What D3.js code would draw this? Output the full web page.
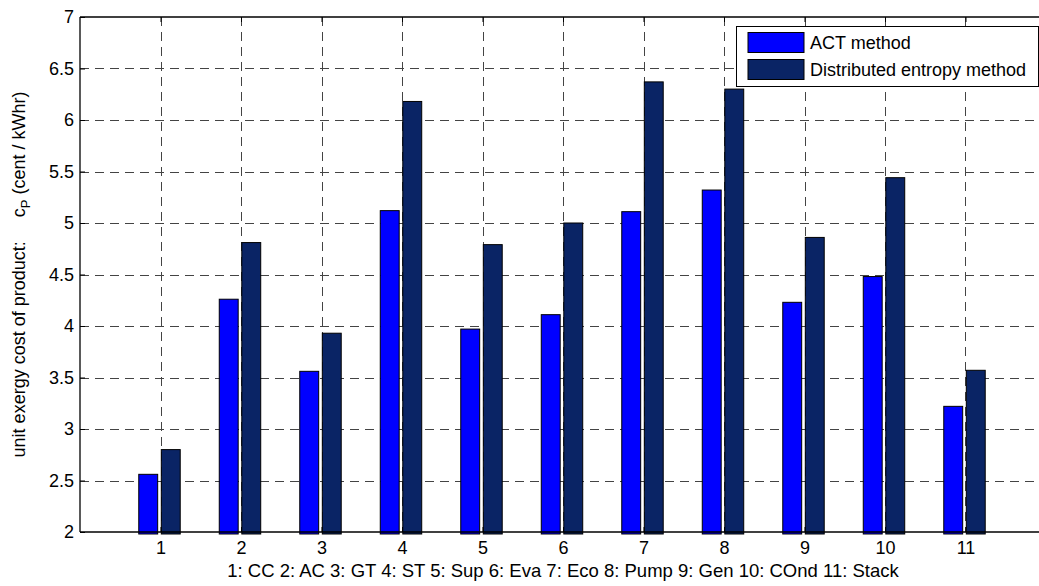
<!DOCTYPE html>
<html>
<head>
<meta charset="utf-8">
<script src="https://cdn.jsdelivr.net/npm/d3@7/dist/d3.min.js"></script>
<style>
  html, body { margin: 0; padding: 0; background: #fff; }
  svg { display: block; font-family: "Liberation Sans", Arial, sans-serif; }
</style>
</head>
<body>
<svg id="chart" width="1039" height="586"></svg>
<script>
// Component index, 1..11
const categories = [1, 2, 3, 4, 5, 6, 7, 8, 9, 10, 11];
// Unit exergy cost of product, cent / kWhr
const actMethod = [2.56, 4.26, 3.56, 5.12, 3.97, 4.11, 5.11, 5.32, 4.23, 4.48, 3.22];
const entropyMethod = [2.80, 4.81, 3.93, 6.18, 4.79, 5.00, 6.37, 6.30, 4.86, 5.44, 3.57];
const seriesNames = ["ACT method", "Distributed entropy method"];
const yTicks = [2, 2.5, 3, 3.5, 4, 4.5, 5, 5.5, 6, 6.5, 7];
const xLabel = "1: CC 2: AC 3: GT 4: ST 5: Sup 6: Eva 7: Eco 8: Pump 9: Gen 10: COnd 11: Stack";

const colors = ["#0000ff", "#0a2465"];
const FS = 18;

const svg = d3.select("#chart");
const plotL = 80, plotR = 1046, plotT = 17, plotB = 532;

const x = d3.scaleLinear().domain([0, 12]).range([plotL, plotR]);
const y = d3.scaleLinear().domain([2, 7]).range([plotB, plotT]);

// Grid (dashed)
const grid = svg.append("g").attr("stroke", "#444").attr("stroke-width", 1)
  .attr("stroke-dasharray", "9,6").attr("fill", "none");
categories.forEach(c => {
  grid.append("line").attr("x1", Math.round(x(c)) + 0.5).attr("x2", Math.round(x(c)) + 0.5)
    .attr("y1", plotT).attr("y2", plotB);
});
yTicks.slice(1, -1).forEach(t => {
  grid.append("line").attr("x1", plotL).attr("x2", plotR)
    .attr("y1", Math.round(y(t)) + 0.5).attr("y2", Math.round(y(t)) + 0.5);
});

// Bars
const offsets = [[-0.27, -0.035], [0.01, 0.245]];
[actMethod, entropyMethod].forEach((vals, si) => {
  svg.append("g").selectAll("rect").data(vals).join("rect")
    .attr("x", (d, i) => x(categories[i] + offsets[si][0]))
    .attr("width", x(offsets[si][1]) - x(offsets[si][0]))
    .attr("y", d => y(d))
    .attr("height", d => y(2) - y(d) + 2)
    .attr("fill", colors[si])
    .attr("stroke", "#000")
    .attr("stroke-width", 1);
});

// Axes
const axisFont = g => g.selectAll("text").attr("font-size", FS)
  .attr("font-family", "'Liberation Sans', Arial, sans-serif").attr("fill", "#000");

const yAxis = svg.append("g").attr("transform", `translate(${plotL},0)`)
  .call(d3.axisLeft(y).tickValues(yTicks).tickSize(-5).tickPadding(6).tickFormat(d3.format("")));
yAxis.call(axisFont);

const xAxis = svg.append("g").attr("transform", `translate(0,${plotB})`)
  .call(d3.axisBottom(x).tickValues(categories).tickSize(-5).tickPadding(9).tickFormat(d3.format("d")));
xAxis.call(axisFont);

const xTop = svg.append("g").attr("transform", `translate(0,${plotT})`)
  .call(d3.axisTop(x).tickValues(categories).tickSize(-5).tickFormat(""));

[yAxis, xAxis, xTop].forEach(g => {
  g.select(".domain").attr("stroke", "#000").attr("stroke-width", 1.3);
  g.selectAll(".tick line").attr("stroke", "#000");
});
yAxis.select(".domain").attr("d", `M0,${plotT}V${plotB}`);
xAxis.select(".domain").attr("d", `M${plotL},0H${plotR}`);
xTop.select(".domain").attr("d", `M${plotL},0H${plotR}`);

// X label
svg.append("text").attr("x", (plotL + plotR) / 2).attr("y", 577)
  .attr("text-anchor", "middle").attr("font-size", 18.5).text(xLabel);

// Y label
const yl = svg.append("text").attr("transform", `translate(25,${(plotT + plotB) / 2}) rotate(-90)`)
  .attr("text-anchor", "middle").attr("font-size", FS);
yl.append("tspan").text("unit exergy cost of product:");
yl.append("tspan").attr("dx", 24).text("c");
yl.append("tspan").attr("font-size", 13).attr("dy", 5).text("P");
yl.append("tspan").attr("dy", -5).attr("dx", 5).text("(cent / kWhr)");

// Legend
const lg = svg.append("g");
lg.append("rect").attr("x", 736.5).attr("y", 26.5).attr("width", 302).attr("height", 60)
  .attr("fill", "#fff").attr("stroke", "#000").attr("stroke-width", 1);
seriesNames.forEach((name, i) => {
  lg.append("rect").attr("x", 748).attr("y", 32.5 + i * 27).attr("width", 56).attr("height", 20)
    .attr("fill", colors[i]).attr("stroke", "#000").attr("stroke-width", 1);
  lg.append("text").attr("x", 810).attr("y", 49 + i * 27).attr("font-size", FS).text(name);
});
</script>
</body>
</html>
